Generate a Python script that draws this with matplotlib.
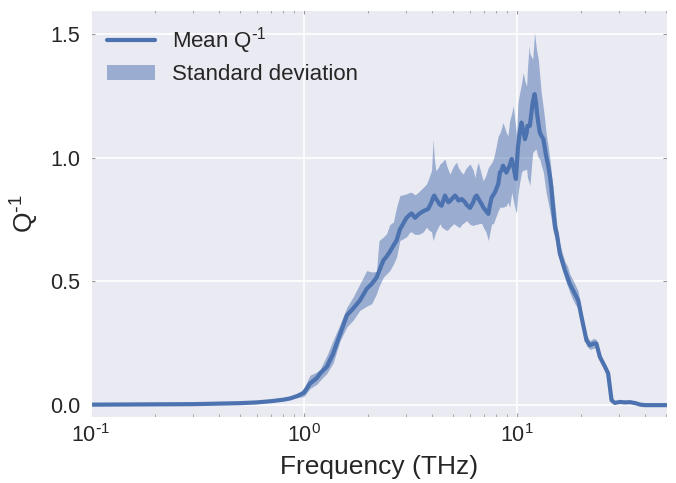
import matplotlib
matplotlib.use('Agg')
import matplotlib.pyplot as plt
import seaborn as sns
from matplotlib.ticker import LogLocator, NullFormatter, FuncFormatter
import numpy as np

sns.set_style('darkgrid')
plt.rcParams['font.family'] = ['Liberation Sans', 'DejaVu Sans']
plt.rcParams['mathtext.default'] = 'regular'

# frequency (THz) and Q^-1 statistics
freq = [0.1, 0.2, 0.3, 0.4, 0.5, 0.6, 0.7, 0.8, 0.86, 0.93,
        1.0, 1.067, 1.15, 1.19, 1.28, 1.37, 1.48, 1.59, 1.70, 1.83,
        1.97, 2.08, 2.19, 2.25, 2.36, 2.44, 2.53, 2.63, 2.72, 2.82,
        3.03, 3.14, 3.20, 3.32, 3.44, 3.5, 3.63, 3.76, 3.83, 3.97,
        4.04, 4.09, 4.16, 4.27, 4.35, 4.43, 4.59, 4.67, 4.76, 4.85,
        4.94, 5.03, 5.12, 5.21, 5.31, 5.40, 5.50, 5.60, 5.70, 5.80,
        6.02, 6.23, 6.35, 6.47, 6.58, 6.82, 6.94, 7.15, 7.34, 7.47,
        7.61, 7.75, 7.88, 8.17, 8.32, 8.46, 8.60, 8.92, 9.07, 9.24,
        9.45, 9.6, 9.88, 9.95, 10.1, 10.3, 10.5, 10.7, 10.9, 11.1,
        11.2, 11.4, 11.5, 11.85, 12.1, 12.3, 12.4, 12.6, 12.8, 13.0,
        13.3, 13.5, 13.7, 14.0, 14.3, 14.5, 14.8, 15.1, 15.4, 15.9,
        16.4, 16.8, 17.3, 17.7, 18.2, 18.7, 19.4, 20.1, 21.2, 22.0,
        22.9, 23.6, 24.5, 25.9, 26.8, 27.3, 27.8, 28.8, 30.5, 32.0,
        34.0, 36.0, 38.0, 40.0, 50.6]
mean_q = [0.002, 0.003, 0.004, 0.006, 0.008, 0.011, 0.016, 0.022, 0.027, 0.037,
          0.05, 0.087, 0.11, 0.128, 0.155, 0.208, 0.289, 0.363, 0.39, 0.423,
          0.47, 0.49, 0.515, 0.54, 0.585, 0.60, 0.62, 0.645, 0.665, 0.71,
          0.757, 0.77, 0.775, 0.757, 0.77, 0.775, 0.784, 0.79, 0.793, 0.82,
          0.84, 0.847, 0.835, 0.82, 0.81, 0.806, 0.847, 0.835, 0.82, 0.825,
          0.833, 0.84, 0.847, 0.84, 0.827, 0.83, 0.833, 0.827, 0.82, 0.81,
          0.797, 0.82, 0.84, 0.847, 0.835, 0.813, 0.80, 0.785, 0.773, 0.81,
          0.84, 0.85, 0.86, 0.894, 0.941, 0.948, 0.968, 0.94, 0.954, 0.968,
          0.995, 0.97, 0.914, 0.95, 1.04, 1.10, 1.142, 1.11, 1.075, 1.10,
          1.129, 1.129, 1.129, 1.223, 1.257, 1.22, 1.183, 1.14, 1.102, 1.09,
          1.075, 1.04, 1.008, 0.97, 0.92, 0.88, 0.79, 0.72, 0.69, 0.612,
          0.575, 0.544, 0.515, 0.49, 0.47, 0.45, 0.423, 0.356, 0.262, 0.242,
          0.249, 0.249, 0.195, 0.155, 0.128, 0.074, 0.02, 0.009, 0.013, 0.011,
          0.012, 0.008, 0.002, 0.0, 0.0]
lower_q = [0.002, 0.003, 0.004, 0.006, 0.008, 0.010, 0.015, 0.020, 0.024, 0.030,
           0.035, 0.067, 0.085, 0.10, 0.128, 0.17, 0.262, 0.316, 0.343, 0.383,
           0.40, 0.41, 0.45, 0.48, 0.517, 0.53, 0.544, 0.57, 0.598, 0.665,
           0.68, 0.699, 0.70, 0.69, 0.69, 0.692, 0.70, 0.719, 0.71, 0.70,
           0.665, 0.68, 0.70, 0.72, 0.733, 0.72, 0.71, 0.706, 0.71, 0.72,
           0.725, 0.733, 0.73, 0.725, 0.72, 0.719, 0.73, 0.735, 0.74, 0.746,
           0.73, 0.726, 0.73, 0.73, 0.733, 0.735, 0.72, 0.70, 0.665, 0.70,
           0.733, 0.733, 0.75, 0.786, 0.80, 0.80, 0.80, 0.806, 0.82, 0.80,
           0.86, 0.83, 0.78, 0.78, 0.85, 0.90, 0.941, 0.95, 0.95, 0.954,
           0.92, 0.90, 0.887, 1.021, 1.03, 1.035, 1.02, 1.00, 0.995, 0.97,
           0.941, 0.90, 0.86, 0.82, 0.78, 0.75, 0.70, 0.672, 0.655, 0.58,
           0.545, 0.51, 0.48, 0.455, 0.43, 0.41, 0.39, 0.335, 0.24, 0.225,
           0.23, 0.235, 0.185, 0.145, 0.12, 0.07, 0.018, 0.007, 0.011, 0.009,
           0.010, 0.007, 0.002, 0.0, 0.0]
upper_q = [0.002, 0.003, 0.004, 0.006, 0.008, 0.012, 0.017, 0.024, 0.030, 0.042,
           0.07, 0.121, 0.134, 0.145, 0.20, 0.262, 0.329, 0.396, 0.437, 0.49,
           0.544, 0.538, 0.54, 0.665, 0.68, 0.692, 0.73, 0.74, 0.80, 0.847,
           0.854, 0.86, 0.86, 0.85, 0.86, 0.867, 0.88, 0.894, 0.91, 0.948,
           1.075, 1.0, 0.948, 0.96, 0.975, 0.98, 0.995, 0.97, 0.95, 0.934,
           0.95, 0.965, 0.975, 0.981, 0.96, 0.95, 0.94, 0.934, 0.95, 0.96,
           0.975, 0.95, 0.92, 0.96, 0.981, 0.93, 0.907, 0.93, 0.961, 0.97,
           0.98, 0.995, 1.02, 1.089, 1.10, 1.12, 1.142, 1.10, 1.089, 1.15,
           1.18, 1.21, 1.12, 1.089, 1.22, 1.263, 1.30, 1.344, 1.31, 1.29,
           1.36, 1.452, 1.42, 1.398, 1.505, 1.45, 1.43, 1.398, 1.33, 1.263,
           1.20, 1.156, 1.10, 1.048, 0.99, 0.941, 0.87, 0.806, 0.73, 0.65,
           0.61, 0.58, 0.56, 0.53, 0.51, 0.49, 0.46, 0.38, 0.285, 0.26,
           0.27, 0.265, 0.21, 0.165, 0.135, 0.08, 0.024, 0.011, 0.015, 0.013,
           0.014, 0.009, 0.002, 0.0, 0.0]

blue = '#4C72B0'


def log_label(x, pos):
    # hyphen-style minus like the original figure
    exp = int(round(np.log10(x)))
    if exp < 0:
        return r'$10^{\text{-}%d}$' % (-exp)
    return r'$10^{%d}$' % exp


fig = plt.figure(figsize=(6.76, 4.83), dpi=100)
ax = fig.add_axes([0.1346, 0.1366, 0.852, 0.8427])

ax.fill_between(freq, lower_q, upper_q, color=blue, alpha=0.5, linewidth=0,
                label='Standard deviation')
ax.plot(freq, mean_q, color=blue, linewidth=3, label=r'Mean Q$^{\text{-}1}$')

ax.set_xscale('log')
ax.set_xlim(0.1, 50.6)
ax.set_ylim(-0.048, 1.597)
ax.set_yticks([0.0, 0.5, 1.0, 1.5])
ax.xaxis.set_major_formatter(FuncFormatter(log_label))
ax.xaxis.set_minor_locator(LogLocator(base=10, subs=range(2, 10)))
ax.xaxis.set_minor_formatter(NullFormatter())
ax.grid(which='minor', visible=False)
ax.grid(which='major', color='white', linewidth=1.2)

ax.tick_params(axis='both', which='both', direction='in', color='#999999',
               top=True, bottom=True, left=True, right=True)
ax.tick_params(axis='both', which='major', labelsize=15.5, length=3, width=0.8,
               labelcolor='#262626')
ax.tick_params(axis='x', which='major', pad=5)
ax.tick_params(axis='y', which='major', pad=8)
ax.tick_params(axis='x', which='minor', length=2.5, width=0.6)

ax.set_xlabel(r'Frequency (THz)', fontsize=19, color='#262626', labelpad=6)
ax.set_ylabel(r'Q$^{\text{-}1}$', fontsize=19, color='#262626', labelpad=6)

handles, labels = ax.get_legend_handles_labels()
ax.legend(handles[::-1], labels[::-1], loc='upper left', fontsize=16,
          frameon=False, handlelength=2.2, handletextpad=0.75,
          labelspacing=0.36, borderaxespad=0.3)

fig.savefig('out.png', dpi=100)
